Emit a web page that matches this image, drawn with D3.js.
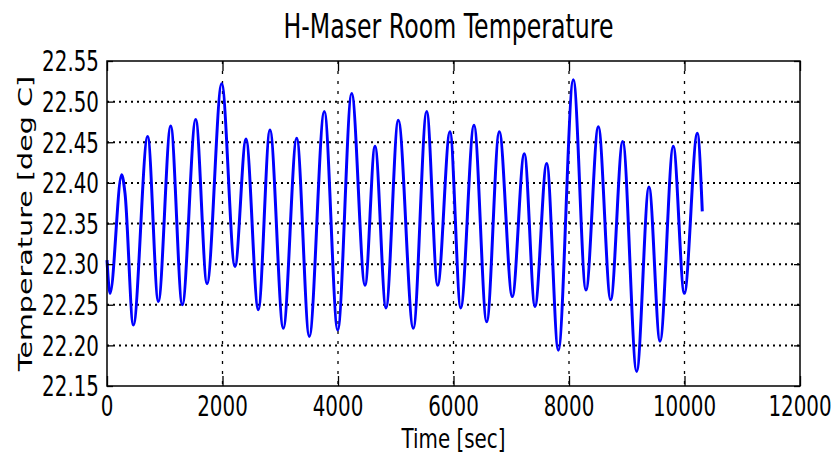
<!DOCTYPE html>
<html>
<head>
<meta charset="utf-8">
<script src="https://cdn.jsdelivr.net/npm/d3@7"></script>
<style>
  body { margin: 0; background: #fff; }
  text { font-family: "DejaVu Sans", sans-serif; fill: #000; }
</style>
</head>
<body>
<div id="graph"></div>
<script>
// values (time in sec, temperature in deg C)
var timeSec = [0, 52, 254, 312, 456, 704, 889, 1103, 1304, 1536,
  1732, 1986, 2216, 2407, 2620, 2822, 3053, 3285, 3503, 3763,
  3995, 4237, 4468, 4641, 4831, 5044, 5304, 5536, 5726, 5939,
  6125, 6355, 6575, 6793, 7018, 7226, 7411, 7614, 7815, 8075,
  8294, 8508, 8722, 8930, 9172, 9385, 9576, 9806, 9997, 10222, 10308];
var tempC = [22.305, 22.264, 22.410, 22.387, 22.225, 22.457, 22.254, 22.470, 22.250, 22.478,
  22.276, 22.522, 22.297, 22.454, 22.244, 22.465, 22.221, 22.455, 22.211, 22.488,
  22.219, 22.510, 22.274, 22.445, 22.246, 22.477, 22.221, 22.488, 22.274, 22.463,
  22.246, 22.471, 22.229, 22.463, 22.260, 22.436, 22.248, 22.424, 22.194, 22.527,
  22.268, 22.469, 22.256, 22.451, 22.168, 22.395, 22.205, 22.445, 22.264, 22.461, 22.365];
var xTicks = [0, 2000, 4000, 6000, 8000, 10000, 12000];
var yTicks = [22.15, 22.20, 22.25, 22.30, 22.35, 22.40, 22.45, 22.50, 22.55];

var margin = { top: 61, right: 34, bottom: 70, left: 107 };
var width = 834 - margin.left - margin.right;
var height = 456 - margin.top - margin.bottom;
var squeeze = "scale(0.7,1)"; // the picture's text is narrowed horizontally

var xScale = d3.scaleLinear().domain([0, 12000]).range([0, width]);
var yScale = d3.scaleLinear().domain([22.15, 22.55]).range([height, 0]);

var root = d3.select("#graph").append("svg")
  .attr("width", 834)
  .attr("height", 456);
var svg = root.append("g")
  .attr("transform", "translate(" + margin.left + "," + margin.top + ")");

// dotted grid, inner ticks only
svg.selectAll(".hgrid").data(yTicks.slice(1, -1)).enter().append("line")
  .attr("class", "hgrid")
  .attr("x1", 0).attr("x2", width)
  .attr("y1", function (d) { return yScale(d); })
  .attr("y2", function (d) { return yScale(d); })
  .attr("stroke", "#000").attr("stroke-width", 2)
  .attr("stroke-dasharray", "2,4");
svg.selectAll(".vgrid").data(xTicks.slice(1, -1)).enter().append("line")
  .attr("class", "vgrid")
  .attr("y1", 0).attr("y2", height)
  .attr("x1", function (d) { return xScale(d); })
  .attr("x2", function (d) { return xScale(d); })
  .attr("stroke", "#000").attr("stroke-width", 1.3)
  .attr("stroke-dasharray", "3,7");

// temperature line
svg.append("path")
  .datum(d3.range(timeSec.length))
  .attr("fill", "none")
  .attr("stroke", "#0000ff")
  .attr("stroke-width", 3)
  .attr("stroke-linejoin", "round")
  .attr("d", d3.line()
    .curve(d3.curveMonotoneX)
    .x(function (i) { return xScale(timeSec[i]); })
    .y(function (i) { return yScale(tempC[i]); })
  );

// inward ticks on all four sides
function tickAxis(axis, tx, ty) {
  var g = svg.append("g")
    .attr("transform", "translate(" + tx + "," + ty + ")")
    .call(axis.tickFormat(function () { return ""; }));
  g.select(".domain").remove();
  g.selectAll("line").attr("stroke", "#000").attr("stroke-width", 1.3);
}
tickAxis(d3.axisBottom(xScale).tickValues(xTicks).tickSize(-10), 0, height);
tickAxis(d3.axisTop(xScale).tickValues(xTicks).tickSize(-10), 0, 0);
tickAxis(d3.axisLeft(yScale).tickValues(yTicks).tickSize(-6), 0, 0);
tickAxis(d3.axisRight(yScale).tickValues(yTicks).tickSize(-6), width, 0);

// frame
svg.append("rect")
  .attr("width", width).attr("height", height)
  .attr("fill", "none").attr("stroke", "#000").attr("stroke-width", 1.5);

// tick labels
svg.selectAll(".xlab").data(xTicks).enter().append("text")
  .attr("class", "xlab")
  .attr("transform", function (d) {
    return "translate(" + xScale(d) + "," + (height + 30) + ") " + squeeze;
  })
  .attr("text-anchor", "middle")
  .attr("font-size", "28.4px")
  .text(function (d) { return d; });
svg.selectAll(".ylab").data(yTicks).enter().append("text")
  .attr("class", "ylab")
  .attr("transform", function (d) {
    return "translate(-8," + (yScale(d) + 10.3) + ") " + squeeze;
  })
  .attr("text-anchor", "end")
  .attr("font-size", "28.4px")
  .text(function (d) { return d.toFixed(2); });

// axis titles
svg.append("text")
  .attr("transform", "translate(" + (width / 2) + "," + (height + 61.5) + ") scale(0.75,1)")
  .attr("text-anchor", "middle")
  .attr("font-size", "26.5px")
  .text("Time [sec]");

svg.append("text")
  .attr("transform", "translate(" + (32 - margin.left) + "," + (height / 2) + ") " + squeeze + " rotate(-90)")
  .attr("text-anchor", "middle")
  .attr("font-size", "28.6px")
  .text("Temperature [deg C]");

svg.append("text")
  .attr("transform", "translate(" + (width / 2 - 5) + "," + (38 - margin.top) + ") " + squeeze)
  .attr("text-anchor", "middle")
  .attr("font-size", "33.8px")
  .text("H-Maser Room Temperature");
</script>
</body>
</html>
